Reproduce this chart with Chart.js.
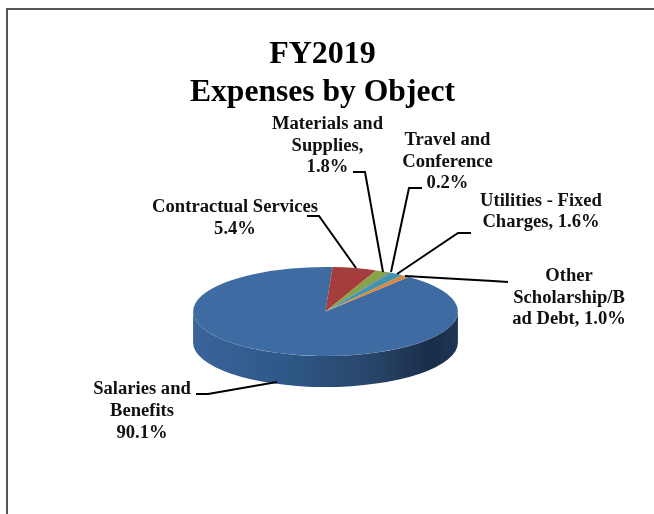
<!DOCTYPE html>
<html><head><meta charset="utf-8">
<style>html,body{margin:0;padding:0;background:#fff}canvas{display:block}</style>
<script src="https://cdn.jsdelivr.net/npm/chart.js@4"></script>
</head><body><canvas id="c" width="654" height="514"></canvas>
<script>
const categories = ['Salaries and Benefits','Contractual Services','Materials and Supplies','Travel and Conference','Utilities - Fixed Charges','Other Scholarship/Bad Debt'];
const values = [90.1,5.4,1.8,0.2,1.6,1.0];
const sliceColors = ['#3f6ba3','#a43d3c','#86a447','#71588f','#3d96ae','#d9873f'];
const titleLines = ['FY2019','Expenses by Object'];
const SERIF = '"Liberation Serif", serif';
const pieCenter = {x:325.5, y:311.5};
const flatten = 0.336, depth = 31;
const callouts = [
 {lines:['Contractual Services','5.4%'], x:235, ys:[212,234], path:[[307,216],[319,216],[356,268]]},
 {lines:['Materials and','Supplies,','1.8%'], x:327.5, ys:[129,151,172], path:[[353,172],[365,172],[383,272]]},
 {lines:['Travel and','Conference','0.2%'], x:447.5, ys:[145,167,188], path:[[422,188],[409,188],[391,272]]},
 {lines:['Utilities - Fixed','Charges, 1.6%'], x:541, ys:[206,227], path:[[471,233],[458,233],[397,274]]},
 {lines:['Other','Scholarship/B','ad Debt, 1.0%'], x:569, ys:[281,303,324], path:[[508,282],[493,281],[405,276]]},
 {lines:['Salaries and','Benefits','90.1%'], x:142, ys:[394,416,438], path:[[196,394],[208,394],[277,382]]}
];
function sideColor(ctx,cx,r,color,i){
  if(i!==0) return color;
  const g=ctx.createLinearGradient(cx-r,0,cx+r,0);
  g.addColorStop(0,'#3a6499');g.addColorStop(0.35,'#2f5888');g.addColorStop(0.68,'#274568');
  g.addColorStop(0.9,'#1a2d49');g.addColorStop(1,'#1f3656');
  return g;
}
const pie3d = {
  id:'pie3d',
  beforeDatasetsDraw(chart){
    const ctx=chart.ctx, meta=chart.getDatasetMeta(0), X=pieCenter.x, Y=pieCenter.y;
    meta.data.forEach((arc,i)=>{
      const p=arc.getProps(['startAngle','endAngle','outerRadius'],true), r=p.outerRadius, ry=r*flatten;
      for(let k=-1;k<=1;k++){
        const a0=Math.max(p.startAngle+k*2*Math.PI,0), a1=Math.min(p.endAngle+k*2*Math.PI,Math.PI);
        if(a1<=a0) continue;
        ctx.save();
        ctx.beginPath();
        ctx.ellipse(X,Y,r,ry,0,a0,a1,false);
        ctx.ellipse(X,Y+depth,r,ry,0,a1,a0,true);
        ctx.closePath();
        ctx.fillStyle=sideColor(ctx,X,r,sliceColors[i],i);
        ctx.fill();
        ctx.restore();
      }
    });
    const c=meta.data[0];
    ctx.save();
    ctx.translate(X,Y);
    ctx.scale(1,flatten);
    ctx.translate(-c.x,-c.y);
  },
  afterDatasetsDraw(chart){ chart.ctx.restore(); },
  afterDraw(chart){
    const ctx=chart.ctx;
    ctx.save();
    ctx.strokeStyle='#555'; ctx.lineWidth=2;
    ctx.beginPath(); ctx.moveTo(654,9); ctx.lineTo(7,9); ctx.lineTo(7,514); ctx.stroke();
    ctx.fillStyle='#111'; ctx.textAlign='center'; ctx.textBaseline='alphabetic';
    ctx.font='bold 18.6px '+SERIF;
    ctx.strokeStyle='#000'; ctx.lineWidth=2;
    callouts.forEach(c=>{
      c.lines.forEach((t,i)=>ctx.fillText(t,c.x,c.ys[i]));
      ctx.beginPath();
      c.path.forEach((q,i)=>i?ctx.lineTo(q[0],q[1]):ctx.moveTo(q[0],q[1]));
      ctx.stroke();
    });
    ctx.restore();
  }
};
new Chart(document.getElementById('c'),{
  type:'pie',
  data:{labels:categories,datasets:[{data:values,backgroundColor:sliceColors,borderWidth:0,hoverOffset:0}]},
  plugins:[pie3d],
  options:{
    responsive:false,animation:false,rotation:39,
    layout:{padding:{left:190,right:199,top:0,bottom:137}},
    plugins:{
      legend:{display:false},tooltip:{enabled:false},
      title:{display:true,text:titleLines,color:'#000',
        font:{family:SERIF,size:32,weight:'bold',lineHeight:1.19},
        padding:{top:36,bottom:0}}
    }
  }
});
</script></body></html>
